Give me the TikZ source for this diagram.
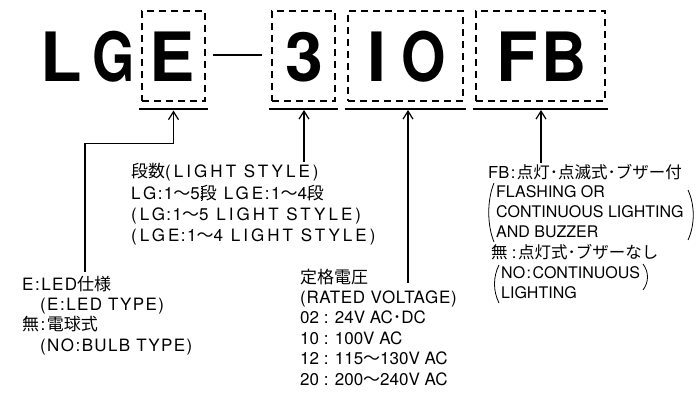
\documentclass[tikz,border=0pt]{standalone}
\usepackage{fontspec}
\setmainfont{TeX Gyre Heros}
\newfontfamily\latA{TeX Gyre Heros}[LetterSpace=8]
\newfontfamily\latM{TeX Gyre Heros}[LetterSpace=18]
\newfontfamily\latV{TeX Gyre Heros}[LetterSpace=4]
\newfontfamily\latN{TeX Gyre Heros}
\newfontfamily\cjk{Noto Sans CJK JP}
\newcommand\jp[1]{{\cjk #1}}
\newcommand\cln{\hspace{1.5pt}:\hspace{1.5pt}}
\usetikzlibrary{arrows.meta,calc}
\tikzset{
  big/.style={font=\fontsize{68}{68}\selectfont\bfseries, inner sep=0pt, anchor=base},
  dbox/.style={draw, line width=1.1pt, dash pattern=on 7pt off 5pt, inner sep=0pt},
  uline/.style={line width=2pt},
  arr/.style={line width=1.2pt, -{Straight Barb[length=8pt,width=10pt,line width=1.2pt]}},
  txtA/.style={font=\fontsize{17}{17}\selectfont\latA, inner sep=0pt, anchor=base west},
  txtM/.style={font=\fontsize{17}{17}\selectfont\latM, inner sep=0pt, anchor=base west},
  txtV/.style={font=\fontsize{17}{17}\selectfont\latV, inner sep=0pt, anchor=base west},
  txtN/.style={font=\fontsize{17}{17}\selectfont\latN, inner sep=0pt, anchor=base west},
  txtF/.style={font=\fontsize{16}{16}\selectfont\latN, inner sep=0pt, anchor=base west},
  txtFj/.style={font=\fontsize{16.5}{16.5}\selectfont\latN, inner sep=0pt, anchor=base west},
  paren/.style={line width=0.8pt}
}
\begin{document}
\begin{tikzpicture}[x=1pt,y=-1pt]
\useasboundingbox (0,0) rectangle (697,398);
% big code letters
\node[big] (L) at (61,82) {L};
\node[big] (G) at (114,82) {\scalebox{0.8}[1]{G}};
\node[big] (E) at (172,82) {E};
\node[big] (three) at (304,82) {3};
\node[big] (one) at (377,82) {I};
\node[big] (zero) at (424,82) {\scalebox{0.84}[1]{O}};
\node[big] (F) at (517,82) {F};
\node[big] (B) at (564,82) {\scalebox{0.92}[1]{B}};
\coordinate (dl) at (213,55);
\coordinate (dr) at (262,55);
\draw[line width=2.4pt] (dl) -- (dr);
% dashed boxes
\node[dbox, minimum width=63pt, minimum height=90pt] (bE) at (173.5,56) {};
\node[dbox, minimum width=63pt, minimum height=90pt] (b3) at (303.5,56) {};
\node[dbox, minimum width=115pt, minimum height=90pt] (bIO) at (405.5,56) {};
\node[dbox, minimum width=129pt, minimum height=90pt] (bFB) at (540.5,56) {};
% underlines
\foreach \b in {bE,b3,bIO,bFB}{
  \draw[uline] ($(\b.south west)+(-2,7)$) -- ($(\b.south east)+(2,7)$);
}
% E block
\node[txtA] (l1) at (22,291) {E\cln LED\jp{仕様}};
\node[txtA] (l2) at (40,311) {(E\cln LED TYPE)};
\node[txtA] (l3) at (22,331) {\jp{無}\cln\jp{電球式}};
\node[txtA] (l4) at (40,352) {(NO\cln BULB TYPE)};
% light style block
\node[txtM] (m1) at (131,178) {\jp{段数}(LIGHT STYLE)};
\node[txtM] (m2) at (131,200) {LG\cln 1\jp{～}5\jp{段}\hspace{7pt}LGE\cln 1\jp{～}4\jp{段}};
\node[txtM] (m3) at (131,221) {(LG\cln 1\jp{～}5 LIGHT STYLE)};
\node[txtM] (m4) at (131,242) {(LGE\cln 1\jp{～}4 LIGHT STYLE)};
\draw[line width=0.4pt, dotted] (201,186) -- (201,202);
% voltage block
\node[txtV] (v1) at (300,284) {\jp{定格電圧}};
\node[txtV] (v2) at (300,304) {(RATED VOLTAGE)};
\node[txtN] (v3) at (300,324) {02 : 24V AC\jp{･}DC};
\node[txtN] (v4) at (300,345) {10 : 100V AC};
\node[txtN] (v5) at (300,365) {12 : 115\jp{～}130V AC};
\node[txtN] (v6) at (300,386) {20 : 200\jp{～}240V AC};
% FB block
\node[txtFj] (f1) at (488,179) {FB\cln\jp{点灯･点滅式･ブザー付}};
\node[txtF] (f2) at (496,198) {FLASHING OR};
\node[txtF] (f3) at (496,218) {CONTINUOUS LIGHTING};
\node[txtF] (f4) at (496,238) {AND BUZZER};
\node[txtFj] (f5) at (491,259) {\jp{無}\,\cln\jp{点灯式･ブザーなし}};
\node[txtF] (f6) at (501,279) {NO\cln CONTINUOUS};
\node[txtF] (f7) at (501,299) {LIGHTING};
% parentheses
\draw[paren] (494,183) .. controls (487,200) and (487,225) .. (494,242);
\draw[paren] (688,190) .. controls (695,205) and (695,225) .. (688,240);
\draw[paren] (499,265) .. controls (493,277) and (493,291) .. (499,303);
\draw[paren] (643,264) .. controls (649,272) and (649,282) .. (643,290);
% arrows
\coordinate (eS) at (85,272);
\coordinate (eT) at ($(bE.south)+(0,9)$);
\coordinate (tS) at (304,162);
\coordinate (tT) at (304,110);
\coordinate (iS) at (408,283);
\coordinate (iT) at (408,110);
\coordinate (fS) at (541,163);
\coordinate (fT) at (541,110);
\draw[arr] (eS) |- ($(eT)+(0,33)$) -- (eT);
\draw[arr] (tS) -- (tT);
\draw[arr] (iS) -- (iT);
\draw[arr] (fS) -- (fT);
\end{tikzpicture}
\end{document}
